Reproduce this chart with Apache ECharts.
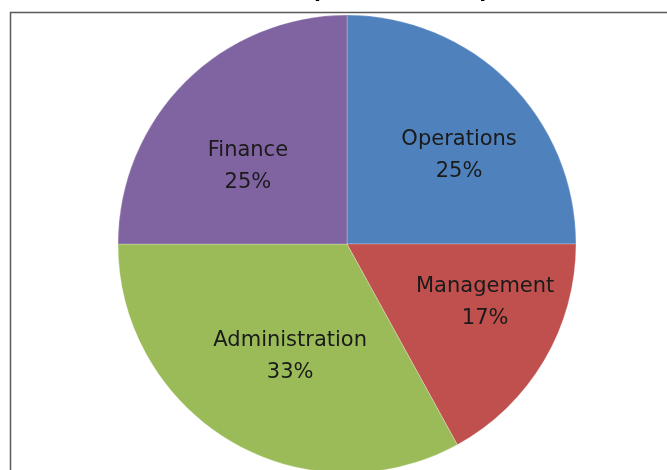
<!DOCTYPE html>
<html>
<head>
<meta charset="utf-8">
<script src="https://cdn.jsdelivr.net/npm/echarts@6/dist/echarts.min.js"></script>
<style>
  html, body { margin: 0; padding: 0; background: #fff; }
  #chart { width: 667px; height: 470px; }
</style>
</head>
<body>
<div id="chart"></div>
<script>
var departments = ['Operations', 'Management', 'Administration', 'Finance'];
var shares = [25, 17, 33, 25];
var sliceColors = ['#4F81BD', '#C0504D', '#9BBB59', '#8064A2'];
// nudges that move each inner label the way the original tool placed it
var labelNudge = [[29, -5], [37, -1], [3, 11], [-16, 6]];

var pieData = departments.map(function (name, i) {
    return {
        value: shares[i],
        name: name,
        itemStyle: { color: sliceColors[i] },
        label: { offset: labelNudge[i] }
    };
});

var myChart = echarts.init(document.getElementById('chart'));
myChart.setOption({
    backgroundColor: '#fff',
    animation: false,
    title: {
        text: 'Departmental Expenses',
        left: 277,
        top: -28,
        textStyle: { fontFamily: 'Liberation Sans', fontWeight: 'bold', fontSize: 25, color: '#000' }
    },
    graphic: [
        {
            type: 'rect',
            shape: { x: 10.5, y: 12.5, width: 700, height: 500 },
            style: { fill: '#fff', stroke: '#595959', lineWidth: 1.5 },
            z: 0,
            silent: true
        }
    ],
    series: [
        {
            type: 'pie',
            center: [347, 244],
            radius: 229,
            startAngle: 90,
            clockwise: true,
            itemStyle: { borderColor: 'rgba(255,255,255,0.5)', borderWidth: 0.5 },
            label: {
                show: true,
                position: 'inner',
                formatter: '{b}\n{d}%',
                fontFamily: 'DejaVu Sans',
                fontSize: 21,
                lineHeight: 32,
                color: '#1a1a1a'
            },
            labelLine: { show: false },
            data: pieData
        }
    ]
});
</script>
</body>
</html>
